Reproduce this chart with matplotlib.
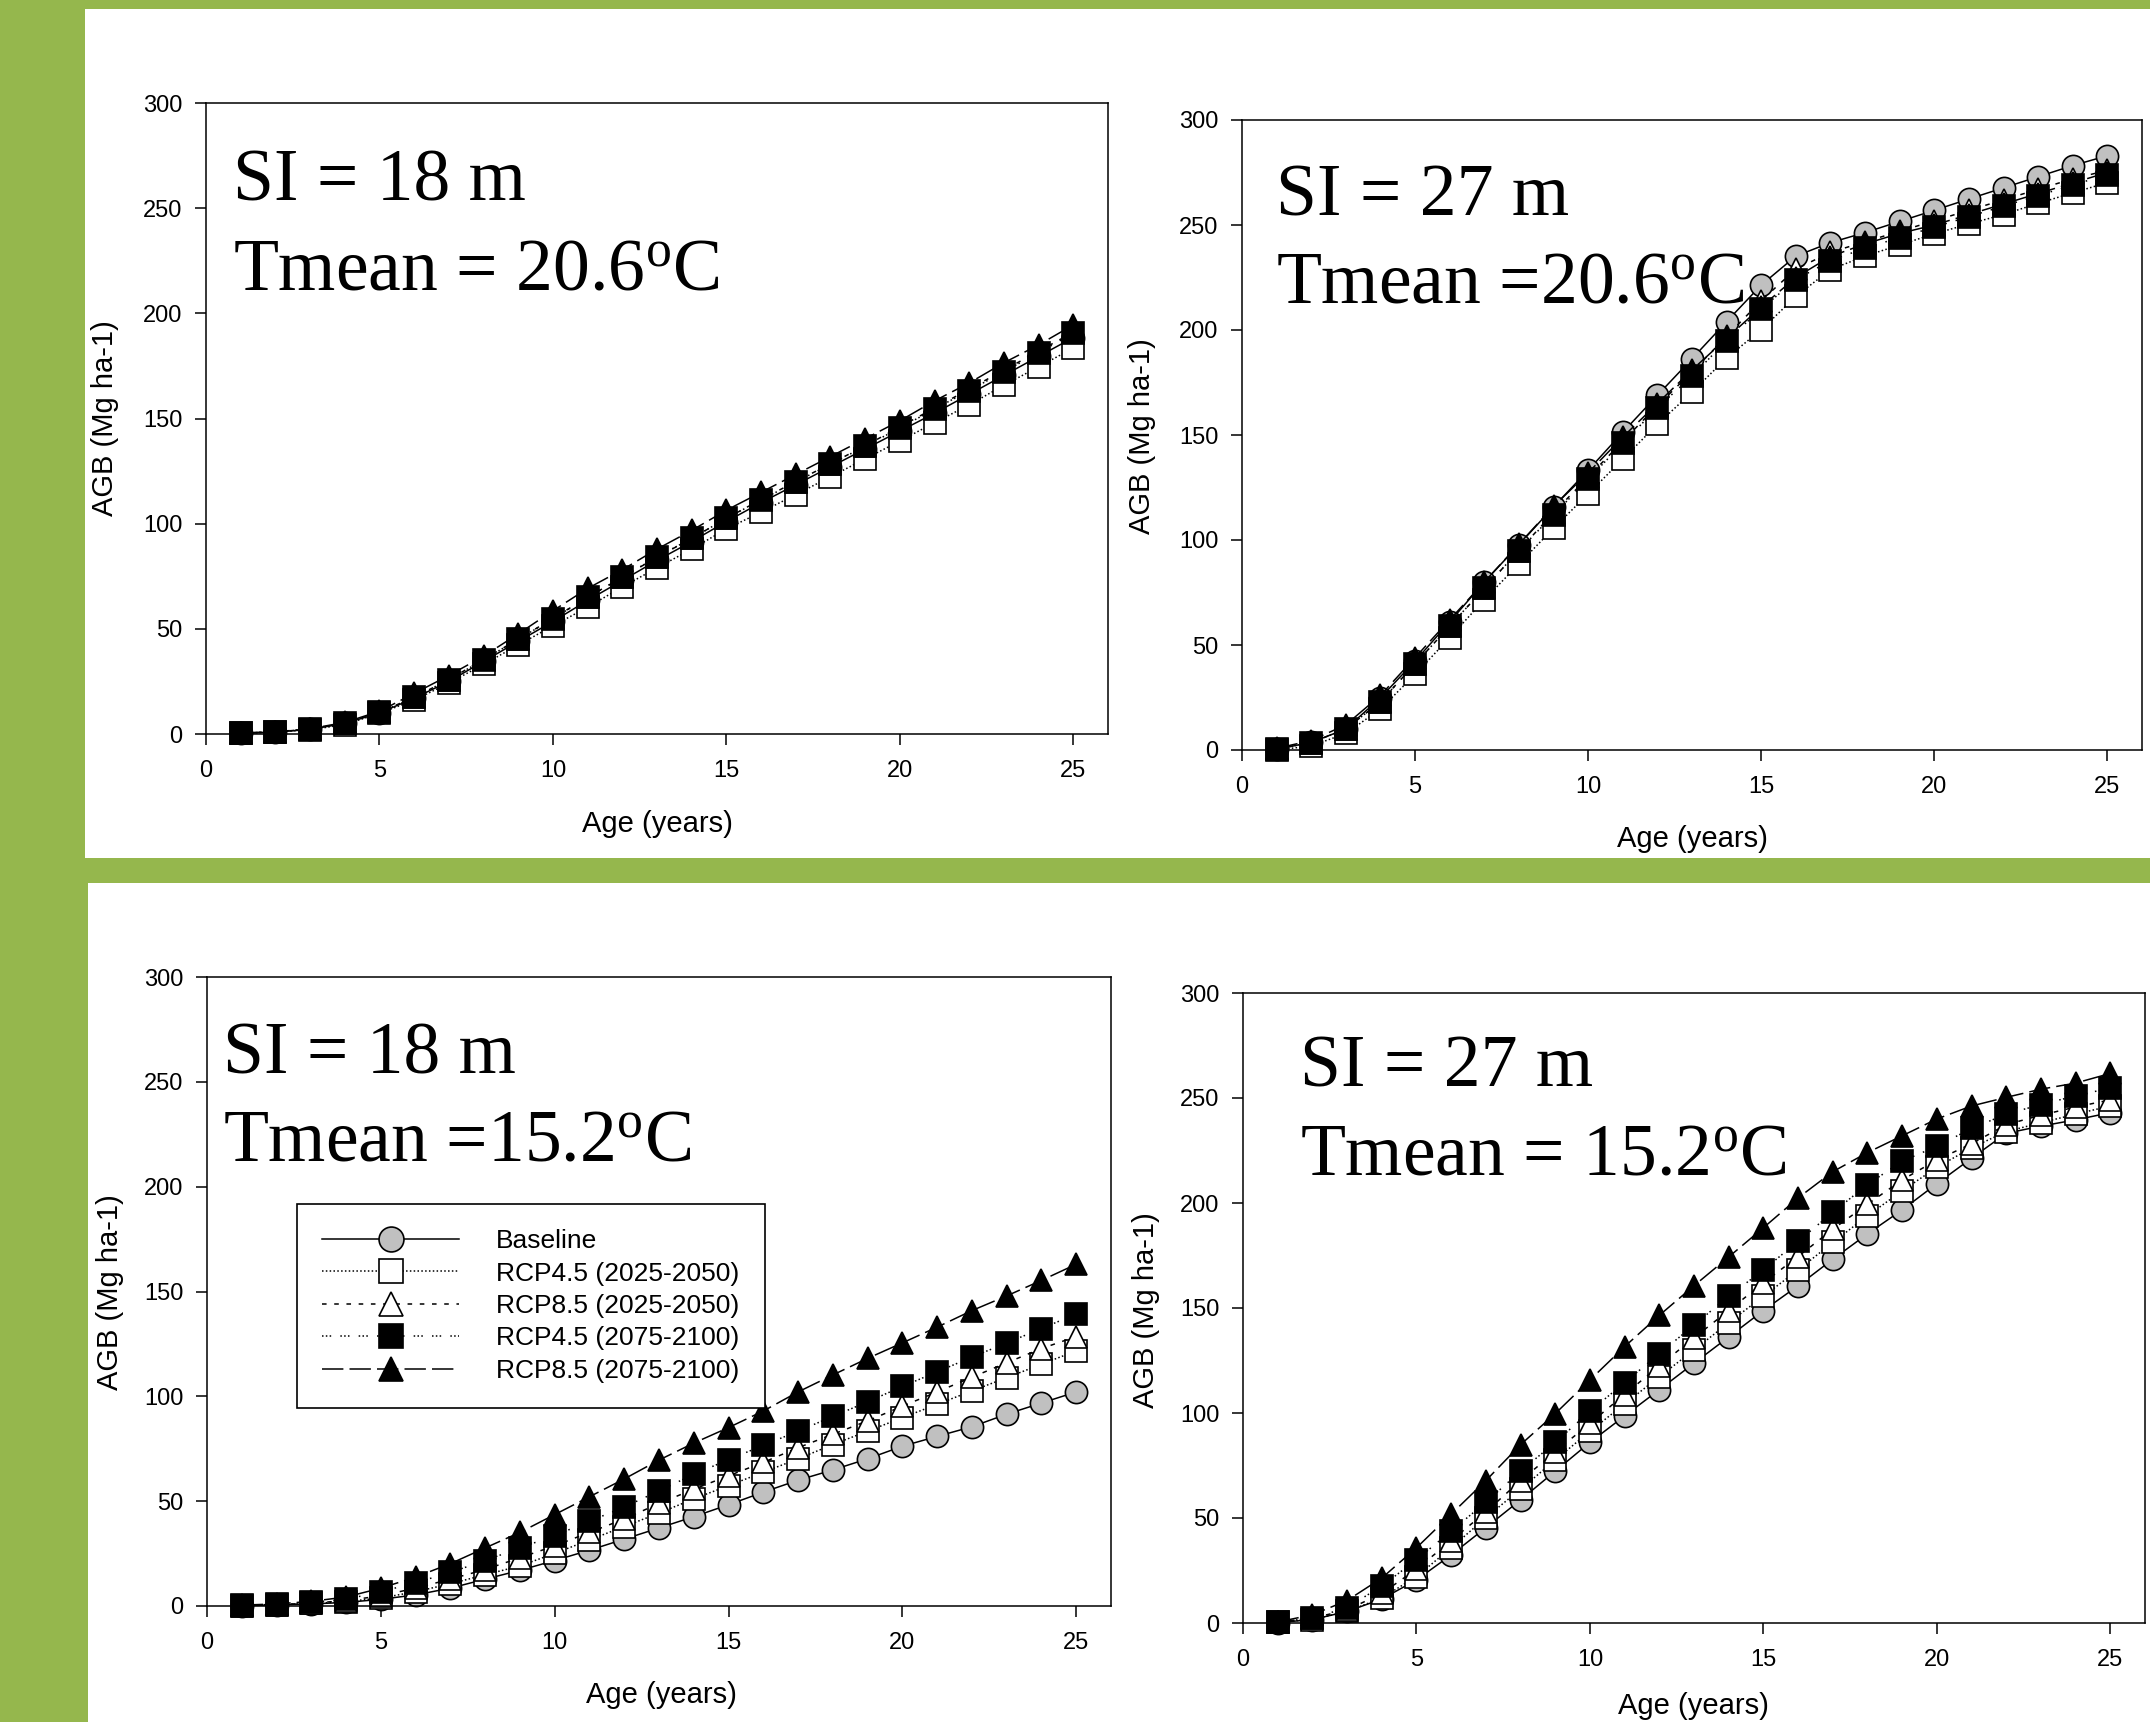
import matplotlib
matplotlib.use("Agg")
import matplotlib.pyplot as plt
from matplotlib.patches import Rectangle

plt.rcParams['font.family'] = ['Liberation Sans', 'DejaVu Sans']
plt.rcParams['mathtext.fontset'] = 'custom'
plt.rcParams['mathtext.rm'] = 'Liberation Serif'
plt.rcParams['mathtext.it'] = 'Liberation Serif:italic'

ages = list(range(1, 26))
series_names = ["Baseline", "RCP4.5 (2025-2050)", "RCP8.5 (2025-2050)",
                "RCP4.5 (2075-2100)", "RCP8.5 (2075-2100)"]
x_ticks = [0, 5, 10, 15, 20, 25]
y_ticks = [0, 50, 100, 150, 200, 250, 300]

# Top-left: SI = 18 m, Tmean = 20.6
tl_base = [0.4, 0.9, 2.2, 5.0, 10.0, 17.0, 25.0, 34.5, 44.0, 53.5, 63.5, 73.0, 82.5, 91.5, 101.0, 110.0, 118.5, 127.0, 135.5, 144.0, 152.5, 161.5, 170.5, 179.5, 188.5]
tl_r45a = [0.3, 1.0, 2.0, 4.5, 9.8, 16.1, 24.2, 33.1, 42.3, 51.4, 60.3, 69.9, 79.0, 87.9, 97.5, 105.5, 113.8, 122.3, 130.8, 139.3, 148.0, 156.5, 165.8, 174.6, 183.5]
tl_r85a = [0.4, 1.0, 2.3, 5.2, 10.3, 17.5, 25.8, 35.5, 45.0, 55.0, 65.0, 74.5, 84.0, 93.0, 102.5, 111.5, 120.0, 128.5, 137.0, 146.0, 155.0, 164.0, 173.0, 182.0, 191.0]
tl_r45b = [0.5, 1.0, 2.3, 5.2, 10.3, 17.5, 25.8, 35.3, 45.0, 54.8, 65.0, 74.5, 84.2, 93.0, 102.5, 111.3, 119.8, 128.3, 136.8, 145.5, 154.5, 163.3, 172.3, 181.3, 190.5]
tl_r85b = [0.5, 1.0, 2.5, 5.5, 10.8, 19.3, 27.8, 37.0, 47.6, 58.6, 69.2, 78.1, 87.9, 96.8, 106.4, 114.9, 123.4, 131.9, 140.4, 148.9, 158.4, 166.9, 176.5, 185.0, 194.5]

# Top-right: SI = 27 m, Tmean = 20.6
tr_base = [0.4, 3.6, 10.0, 24.9, 42.3, 61.0, 80.0, 97.7, 115.8, 133.2, 151.3, 168.9, 186.3, 204.0, 221.4, 235.2, 241.6, 246.4, 251.7, 257.0, 262.4, 267.7, 273.0, 278.3, 283.0]
tr_r45a = [0.0, 1.9, 7.9, 19.5, 36.0, 53.5, 71.6, 88.6, 105.6, 122.0, 138.5, 155.1, 170.4, 186.7, 200.1, 216.0, 228.8, 235.2, 240.5, 245.8, 250.5, 255.0, 260.3, 265.3, 270.2]
tr_r85a = [0.5, 3.5, 10.0, 23.0, 41.0, 59.0, 77.0, 95.0, 113.0, 130.0, 147.0, 164.0, 180.0, 197.0, 214.0, 229.0, 237.0, 242.0, 247.0, 252.0, 257.0, 262.0, 267.0, 272.0, 276.0]
tr_r45b = [0.5, 3.5, 10.0, 23.0, 41.0, 59.0, 77.0, 95.0, 112.0, 129.0, 146.0, 163.0, 178.0, 195.0, 210.0, 224.0, 233.0, 239.0, 244.0, 249.0, 254.0, 259.0, 264.0, 269.0, 274.0]
tr_r85b = [0.8, 4.5, 12.0, 26.0, 44.0, 62.0, 80.0, 98.0, 116.0, 132.0, 149.0, 165.0, 181.0, 196.0, 211.0, 225.0, 235.0, 241.0, 246.0, 250.0, 255.0, 260.0, 265.0, 270.0, 275.0]

# Bottom-left: SI = 18 m, Tmean = 15.2
bl_base = [0.2, 0.5, 1.0, 1.7, 3.2, 5.3, 8.5, 12.8, 17.0, 21.7, 26.6, 31.9, 37.2, 42.6, 48.3, 54.3, 60.0, 64.9, 70.2, 76.2, 80.9, 85.5, 91.5, 96.8, 102.1]
bl_r45a = [0.2, 0.5, 1.2, 2.1, 3.8, 6.8, 10.6, 14.9, 19.1, 25.1, 31.5, 37.9, 44.3, 51.1, 57.4, 63.8, 70.2, 77.0, 83.4, 89.8, 96.2, 102.6, 108.9, 115.3, 121.7]
bl_r85a = [0.2, 0.6, 1.4, 2.5, 4.9, 8.5, 12.8, 17.4, 23.0, 28.7, 35.1, 41.5, 48.9, 55.7, 62.1, 68.5, 75.5, 81.9, 88.3, 95.3, 102.1, 109.1, 116.0, 122.8, 128.5]
bl_r45b = [0.3, 0.8, 1.8, 3.2, 6.8, 11.1, 16.0, 21.7, 27.7, 33.6, 40.4, 47.2, 54.9, 62.8, 69.8, 76.6, 83.4, 90.4, 97.4, 104.7, 111.7, 118.7, 125.5, 132.3, 139.3]
bl_r85b = [0.4, 1.0, 2.2, 4.3, 8.5, 13.8, 20.2, 27.7, 35.1, 43.6, 52.1, 60.6, 69.6, 77.7, 85.1, 93.0, 102.1, 110.2, 118.1, 125.5, 133.0, 140.9, 147.9, 155.3, 163.0]

# Bottom-right: SI = 27 m, Tmean = 15.2
br_base = [0.2, 1.6, 5.5, 11.4, 20.5, 32.4, 45.4, 58.6, 72.3, 86.0, 98.6, 111.1, 123.7, 136.2, 148.8, 160.6, 173.2, 185.3, 196.7, 209.2, 221.3, 233.2, 236.6, 239.6, 243.0]
br_r45a = [0.5, 1.6, 5.5, 11.9, 22.1, 35.8, 50.2, 63.7, 77.6, 91.3, 104.3, 117.3, 130.0, 143.0, 155.6, 168.1, 181.2, 193.9, 205.8, 217.0, 226.3, 234.0, 238.2, 242.3, 246.2]
br_r85a = [0.5, 2.3, 6.2, 14.1, 25.6, 39.2, 52.9, 67.8, 81.5, 95.1, 108.8, 122.5, 135.8, 148.8, 162.0, 174.5, 187.5, 199.4, 211.0, 220.5, 228.2, 237.3, 241.8, 245.7, 249.1]
br_r45b = [0.5, 2.3, 7.3, 17.6, 30.1, 43.8, 57.5, 72.3, 86.0, 100.8, 114.5, 128.2, 141.9, 155.6, 168.1, 181.8, 195.5, 208.8, 219.9, 227.0, 235.5, 242.3, 246.9, 251.0, 254.8]
br_r85b = [0.5, 3.9, 10.7, 21.4, 35.8, 51.8, 67.8, 84.9, 99.7, 115.7, 131.6, 146.5, 160.6, 174.3, 188.2, 202.4, 214.9, 224.0, 232.0, 240.0, 246.2, 250.3, 254.2, 257.1, 261.7]

panel_titles = [
    ("SI = 18 m", "Tmean = 20.6$^{\\mathrm{o}}$C"),
    ("SI = 27 m", "Tmean =20.6$^{\\mathrm{o}}$C"),
    ("SI = 18 m", "Tmean =15.2$^{\\mathrm{o}}$C"),
    ("SI = 27 m", "Tmean = 15.2$^{\\mathrm{o}}$C"),
]

W, H = 2150, 1722
fig = plt.figure(figsize=(W / 100, H / 100), dpi=100)
fig.patch.set_facecolor('#95B74D')

def px_rect(x0, y0, x1, y1):
    return (x0 / W, 1 - y1 / H, (x1 - x0) / W, (y1 - y0) / H)

# white panels
for (x0, y0, x1, y1) in [(85, 9, 2150, 858), (88, 883, 2150, 1722)]:
    l, b, w, h = px_rect(x0, y0, x1, y1)
    fig.patches.append(Rectangle((l, b), w, h, transform=fig.transFigure,
                                 facecolor='white', edgecolor='none', zorder=0))

axes_px = [(206, 103, 1108, 734), (1242, 120, 2142, 750),
           (207, 977, 1111, 1606), (1243, 993, 2145, 1623)]
text_pos = [(0.030, 0.845, 0.704), (0.038, 0.848, 0.710),
            (0.018, 0.846, 0.708), (0.063, 0.851, 0.712)]
ylab_px = [(105, 418), (1142, 436), (110, 1292), (1146, 1310)]
xlab_px = [(657, 824), (1692, 839), (661, 1695), (1693, 1706)]

panel_data = [
    [tl_base, tl_r45a, tl_r85a, tl_r45b, tl_r85b],
    [tr_base, tr_r45a, tr_r85a, tr_r45b, tr_r85b],
    [bl_base, bl_r45a, bl_r85a, bl_r45b, bl_r85b],
    [br_base, br_r45a, br_r85a, br_r45b, br_r85b],
]

styles = [
    dict(marker='o', mfc='#c0c0c0', ls='-'),
    dict(marker='s', mfc='white', ls=(0, (1, 1.5))),
    dict(marker='^', mfc='white', ls=(0, (3, 5))),
    dict(marker='s', mfc='black', ls=(0, (1, 1.5, 1, 1.5, 1, 6))),
    dict(marker='^', mfc='black', ls=(0, (14, 4))),
]

for i, (x0, y0, x1, y1) in enumerate(axes_px):
    ax = fig.add_axes(px_rect(x0, y0, x1, y1))
    ax.set_zorder(2)
    handles = []
    for data, st, name in zip(panel_data[i], styles, series_names):
        h, = ax.plot(ages, data, color='black', lw=1.1, ls=st['ls'],
                     marker=st['marker'], ms=16, mfc=st['mfc'], mec='black',
                     mew=1.2, label=name, clip_on=False)
        handles.append(h)
    ax.set_xlim(0, 26)
    ax.set_ylim(0, 300)
    ax.set_xticks(x_ticks)
    ax.set_yticks(y_ticks)
    ax.tick_params(axis='both', direction='out', length=8, width=1.1,
                   labelsize=17, top=False, right=False)
    ax.tick_params(axis='y', pad=9)
    ax.tick_params(axis='x', pad=11)
    for sp in ax.spines.values():
        sp.set_linewidth(1.1)
    tx, ty1, ty2 = text_pos[i]
    t1, t2 = panel_titles[i]
    ax.text(tx, ty1, t1, transform=ax.transAxes, fontsize=53,
            family='Liberation Serif', ha='left', va='baseline')
    ax.text(tx, ty2, t2, transform=ax.transAxes, fontsize=53,
            family='Liberation Serif', ha='left', va='baseline')
    yx, yy = ylab_px[i]
    fig.text(yx / W, 1 - yy / H, "AGB (Mg ha-1)", rotation=90, fontsize=21,
             ha='center', va='center')
    xx, xy = xlab_px[i]
    fig.text(xx / W, 1 - xy / H, "Age (years)", fontsize=21,
             ha='center', va='center')
    if i == 2:
        leg = ax.legend(handles=handles, loc='upper left',
                        bbox_to_anchor=(0.0996, 0.639), borderaxespad=0,
                        fontsize=19, handlelength=5.2, handletextpad=1.4,
                        borderpad=0.95, labelspacing=0.32, markerscale=1.12,
                        fancybox=False, framealpha=1, edgecolor='black')
        leg.get_frame().set_linewidth(1.2)

fig.savefig('out.png', dpi=100, facecolor=fig.get_facecolor())
